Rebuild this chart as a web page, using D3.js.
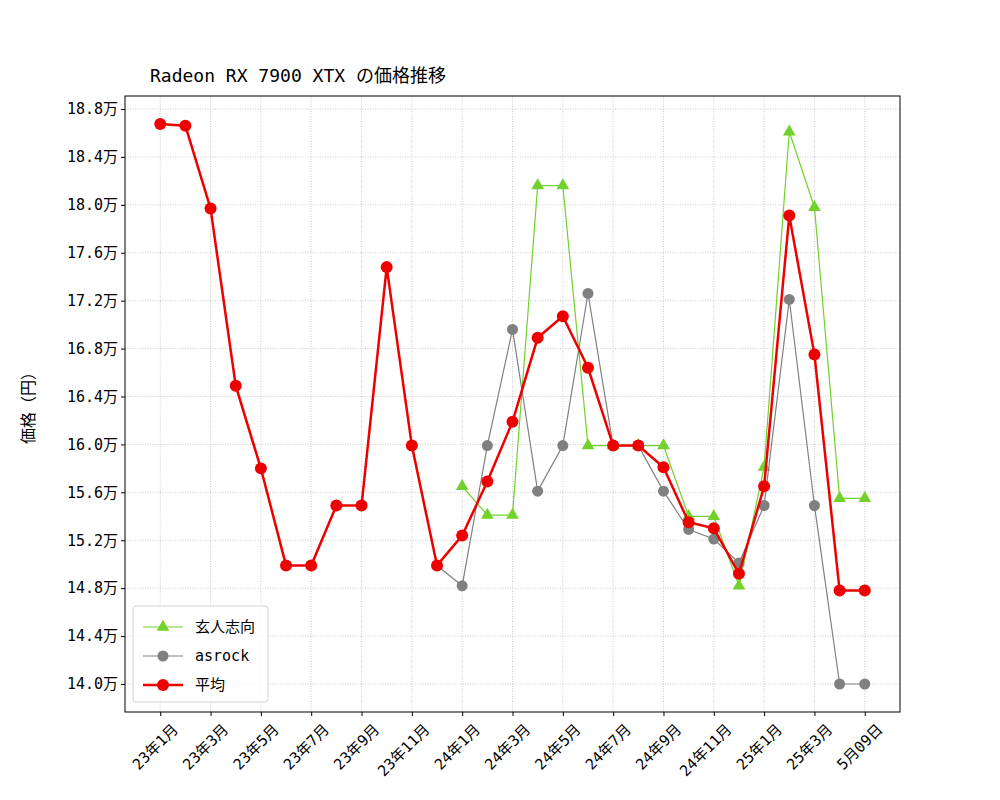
<!DOCTYPE html>
<html><head><meta charset="utf-8">
<script src="https://cdn.jsdelivr.net/npm/d3@7"></script>
<style>body{margin:0;background:#fff}text{font-family:"DejaVu Sans Mono","Noto Sans CJK JP",monospace}</style>
</head><body><svg id="c" width="1000" height="800"></svg>
<script>
// month labels for every point; only every second one (plus the last) is ticked
var labels = ["23年1月","23年2月","23年3月","23年4月","23年5月","23年6月","23年7月","23年8月","23年9月","23年10月",
  "23年11月","23年12月","24年1月","24年2月","24年3月","24年4月","24年5月","24年6月","24年7月","24年8月",
  "24年9月","24年10月","24年11月","24年12月","25年1月","25年2月","25年3月","25年4月","5月09日"];
var tickIdx = [0,2,4,6,8,10,12,14,16,18,20,22,24,26,28];
var yTicks = [140000,144000,148000,152000,156000,160000,164000,168000,172000,176000,180000,184000,188000];

var genjin = [null,null,null,null,null,null,null,null,null,null,null,null,
  156500,154100,154100,181600,181600,159900,159900,159900,159900,154000,154000,148200,158100,186100,179800,155500,155500];
var asrock = [null,null,null,null,null,null,null,null,null,null,null,149900,
  148200,159900,169600,156100,159900,172600,159900,159900,156100,152900,152100,150100,154900,172100,154900,140000,140000];
var avg = [186750,186600,179700,164900,158000,149900,149900,154900,154900,174800,159900,149900,
  152400,156900,161900,168900,170700,166400,159900,159900,158100,153500,153000,149200,156500,179100,167500,147800,147800];

var svg = d3.select("#c");
var L = 125, R = 900, T = 96, B = 712;
var x = d3.scaleLinear().domain([-1.4, labels.length - 1 + 1.4]).range([L, R]);
var y = d3.scaleLinear().domain([137663, 189085]).range([B, T]);

var g = svg.append("g");
// grid
g.selectAll(".gx").data(tickIdx).enter().append("line")
  .attr("x1", d => x(d)).attr("x2", d => x(d)).attr("y1", T).attr("y2", B)
  .attr("stroke", "#999").attr("stroke-width", 0.5).attr("stroke-dasharray", "1,1.5");
g.selectAll(".gy").data(yTicks).enter().append("line")
  .attr("x1", L).attr("x2", R).attr("y1", d => y(d)).attr("y2", d => y(d))
  .attr("stroke", "#999").attr("stroke-width", 0.5).attr("stroke-dasharray", "1,1.5");

var xAxis = d3.axisBottom(x).tickValues(tickIdx).tickFormat(i => labels[i]).tickSize(4);
var gx = svg.append("g").attr("transform", "translate(0," + B + ")").call(xAxis);
gx.selectAll("text").attr("font-size", 15).attr("text-anchor", "end")
  .attr("transform", "translate(6,6) rotate(-45)").attr("dy", "0.7em").attr("dx", "0");
var yAxis = d3.axisLeft(y).tickValues(yTicks).tickFormat(v => (v / 10000).toFixed(1) + "万").tickSize(4);
var gy = svg.append("g").attr("transform", "translate(" + L + ",0)").call(yAxis);
gy.selectAll("text").attr("font-size", 15);
svg.selectAll(".domain").remove();
svg.selectAll(".tick line").attr("stroke", "#000");
svg.append("rect").attr("x", L).attr("y", T).attr("width", R - L).attr("height", B - T)
  .attr("fill", "none").attr("stroke", "#000").attr("stroke-width", 1);

var line = d3.line().defined(d => d != null).x((d, i) => x(i)).y(d => y(d));
function pts(data) { return data.map((v, i) => ({v: v, i: i})).filter(d => d.v != null); }

// 玄人志向
svg.append("path").datum(genjin).attr("d", line).attr("fill", "none").attr("stroke", "#72d12a").attr("stroke-width", 1.2);
var tri = d3.symbol().type(d3.symbolTriangle).size(70);
svg.selectAll(".tg").data(pts(genjin)).enter().append("path").attr("d", tri)
  .attr("transform", d => "translate(" + x(d.i) + "," + y(d.v) + ")").attr("fill", "#72d12a");
// asrock
svg.append("path").datum(asrock).attr("d", line).attr("fill", "none").attr("stroke", "#808080").attr("stroke-width", 1.2);
svg.selectAll(".ca").data(pts(asrock)).enter().append("circle")
  .attr("cx", d => x(d.i)).attr("cy", d => y(d.v)).attr("r", 5.5).attr("fill", "#808080");
// 平均
svg.append("path").datum(avg).attr("d", line).attr("fill", "none").attr("stroke", "#ee0000").attr("stroke-width", 2.5);
svg.selectAll(".cv").data(pts(avg)).enter().append("circle")
  .attr("cx", d => x(d.i)).attr("cy", d => y(d.v)).attr("r", 6).attr("fill", "#ee0000");

// title & y label
svg.append("text").attr("x", 150).attr("y", 82).attr("font-size", 18).text("Radeon RX 7900 XTX の価格推移");
svg.append("text").attr("transform", "translate(34," + ((T + B) / 2) + ") rotate(-90)")
  .attr("text-anchor", "middle").attr("font-size", 16).text("価格（円）");

// legend
var lg = svg.append("g").attr("transform", "translate(133,606)");
lg.append("rect").attr("width", 135).attr("height", 96).attr("rx", 3).attr("fill", "#fff")
  .attr("stroke", "#ccc").attr("opacity", 0.85);
var items = [["玄人志向", "#72d12a", "tri", 1.2], ["asrock", "#808080", "c", 1.2], ["平均", "#ee0000", "c", 2.5]];
items.forEach(function (it, k) {
  var yy = 21 + k * 29;
  lg.append("line").attr("x1", 10).attr("x2", 50).attr("y1", yy).attr("y2", yy).attr("stroke", it[1]).attr("stroke-width", it[3]);
  if (it[2] == "tri") lg.append("path").attr("d", tri).attr("transform", "translate(30," + yy + ")").attr("fill", it[1]);
  else lg.append("circle").attr("cx", 30).attr("cy", yy).attr("r", k == 2 ? 6 : 5.5).attr("fill", it[1]);
  lg.append("text").attr("x", 62).attr("y", yy + 5).attr("font-size", 15).text(it[0]);
});
</script></body></html>
